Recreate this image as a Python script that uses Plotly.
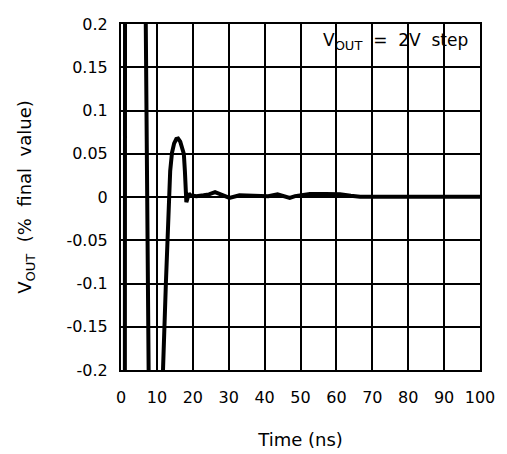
import plotly.graph_objects as go

# Time axis (ns) and settling error (% of final value)
time_ns = [0, 0.9, 1.3, 3.5, 5.5, 6.9, 7.7, 9.0, 10.2, 11.0, 11.7, 12.5, 13.1, 13.7,
           14.2, 14.8, 15.4, 15.9, 16.5, 17.0, 17.5, 17.8, 18.0, 18.2, 18.5, 18.9,
           19.3, 21, 23, 24.5, 26.2, 28, 30.2, 33, 36, 38.6, 41, 43.6, 45.5, 47,
           48.5, 50, 52.6, 57, 61, 64, 66.6, 70, 80, 90, 100]
vout_err = [-2.0, -2.0, 2.0, 2.0, 1.0, 0.2, -0.2, -1.5, -1.8, -0.8, -0.2, -0.1, -0.02, 0.03,
            0.051, 0.062, 0.067, 0.0675, 0.064, 0.057, 0.05, 0.03, 0.005, -0.006, -0.002, 0.004,
            0.002, 0.001, 0.002, 0.003, 0.0055, 0.003, -0.001, 0.002, 0.0015, 0.002, 0.001, 0.003, 0.001, -0.001,
            0.001, 0.002, 0.0035, 0.0035, 0.0033, 0.0015, 0.0003, 0.0003, 0.0003, 0.0003, 0.0003]

x_ticks = [0, 10, 20, 30, 40, 50, 60, 70, 80, 90, 100]
y_ticks = [0.2, 0.15, 0.1, 0.05, 0, -0.05, -0.1, -0.15, -0.2]
y_tick_text = ["0.2", "0.15", "0.1", "0.05", "0", "-0.05", "-0.1", "-0.15", "-0.2"]

FONT = "DejaVu Sans"
SUB = "<sub><span style='font-size:13px'>OUT</span></sub>"

fig = go.Figure()
fig.add_trace(go.Scatter(x=time_ns, y=vout_err, mode="lines",
                         line=dict(color="black", width=4), showlegend=False,
                         cliponaxis=True))

axis_common = dict(showgrid=True, gridcolor="black", gridwidth=2,
                   showline=True, linecolor="black", linewidth=2, mirror="allticks",
                   ticks="inside", ticklen=7, tickwidth=2, tickcolor="black",
                   zeroline=False, ticklabeloverflow="allow",
                   tickfont=dict(family=FONT, size=16, color="black"))

fig.update_xaxes(range=[0, 100], tickvals=x_ticks, ticklabelstandoff=12,
                 title=dict(text="Time (ns)", font=dict(family=FONT, size=18, color="black"), standoff=27),
                 **axis_common)
fig.update_yaxes(range=[-0.2, 0.2], tickvals=y_ticks, ticktext=y_tick_text, ticklabelstandoff=8,
                 title=dict(text="V" + SUB + "  (%  final  value)",
                            font=dict(family=FONT, size=18, color="black"), standoff=30),
                 **axis_common)

# white label box covering the grid behind the annotation
fig.add_shape(type="rect", xref="paper", yref="paper", x0=0.507, x1=1.0, y0=0.9006, y1=0.9807,
              fillcolor="white", line=dict(width=0), layer="between")
fig.add_annotation(xref="paper", yref="paper", x=0.972, y=0.948, xanchor="right", yanchor="middle",
                   text="V" + SUB + "  =  2V  step", showarrow=False,
                   font=dict(family=FONT, size=17, color="black"))

# the page body adds an 8px margin, so the figure is sized to fill the 507x454 window
fig.update_layout(width=499, height=446, margin=dict(l=113, r=27, t=7, b=77),
                  paper_bgcolor="white", plot_bgcolor="white",
                  font=dict(family=FONT, size=16, color="black"))

fig.write_html("out.html")
